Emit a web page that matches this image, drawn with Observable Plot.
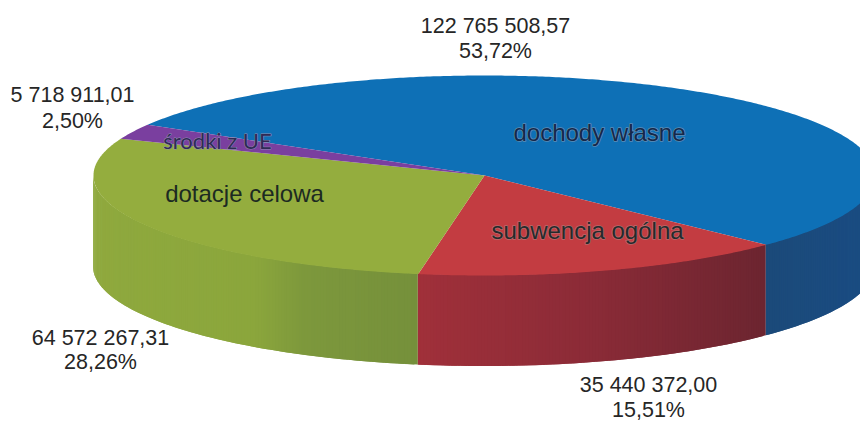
<!DOCTYPE html>
<html>
<head>
<meta charset="utf-8">
<style>html,body{margin:0;padding:0;background:#fff}svg{display:block}</style>
<script src="https://cdn.jsdelivr.net/npm/d3@7"></script>
<script src="https://cdn.jsdelivr.net/npm/@observablehq/plot@0.6"></script>
</head>
<body>
<div id="chart"></div>
<script>
// Data (clockwise order on screen, starting at the blue slice)
const categories = ["dochody własne", "subwencja ogólna", "dotacje celowa", "środki z UE"];
const amounts = [122765508.57, 35440372.00, 64572267.31, 5718911.01];
const amountLabels = ["122 765 508,57", "35 440 372,00", "64 572 267,31", "5 718 911,01"];
const percentLabels = ["53,72%", "15,51%", "28,26%", "2,50%"];

// Styling and layout
const topColors = ["#0e70b6", "#c33c41", "#94ad3e", "#7a3f9f"];
const wallStops = [
  {px: [765, 875], colors: ["#1b4a79", "#1a4c83"]},
  {px: [418, 590, 765], colors: ["#a0303a", "#8b2b37", "#6c2530"]},
  {px: [93, 255, 305, 418], colors: ["#8fa93e", "#8ba63c", "#7d983c", "#75903b"]},
  null
];
const labelInk = ["#14284a", "#252a2c", "#1c2a22", "#2f2a55"];
const labelHalo = ["#5f8db5", "#b86a6c", "#94ad3e", "#8f8fb0"];
const cx = 484, cy = 175, rx = 391, ry = 100, depth = 91, startDeg = 149.5;
const outsidePos = [[495, 32, 57], [648, 391, 416], [100, 344, 368], [72, 101, 127]];
const insidePos = [[599, 133], [587, 231], [244, 194], [217, 141]];

const total = d3.sum(amounts);
const px = a => cx + rx * Math.cos(a * Math.PI / 180);
const py = a => cy - ry * Math.sin(a * Math.PI / 180);

// Slices run clockwise on screen, i.e. decreasing angle
let cursor = startDeg;
const slices = categories.map((name, i) => {
  const a0 = cursor, a1 = cursor - amounts[i] / total * 360;
  cursor = a1;
  return {name, i, a0, a1};
});

const tops = [];
const strips = [];
for (const s of slices) {
  tops.push({s: s.i, x: cx, y: cy});
  for (let a = s.a0; a > s.a1; a -= 0.5) tops.push({s: s.i, x: px(a), y: py(a)});
  tops.push({s: s.i, x: px(s.a1), y: py(s.a1)});
  const st = wallStops[s.i];
  if (!st) continue;
  const shade = d3.scaleLinear().domain(st.px).range(st.colors).clamp(true);
  for (let a = s.a0; a > s.a1; a -= 0.5) {
    const b = Math.max(a - 0.5, s.a1);
    const front = Math.sin(((a + b) / 2) * Math.PI / 180) < 0;
    if (!front) continue;
    const id = `${s.i}-${a}`;
    const fill = shade((px(a) + px(b)) / 2);
    const over = Math.max(b - 0.5, s.a1);
    strips.push({id, fill, x: px(a), y1: py(a), y2: py(a) + depth});
    strips.push({id, fill, x: px(over), y1: py(over), y2: py(over) + depth});
  }
}

const outsideText = categories.flatMap((_, i) => [
  {t: amountLabels[i], x: outsidePos[i][0], y: outsidePos[i][1]},
  {t: percentLabels[i], x: outsidePos[i][0], y: outsidePos[i][2]}
]);
const insideText = categories.map((t, i) => ({t, x: insidePos[i][0], y: insidePos[i][1], i}));

const chart = Plot.plot({
  width: 860, height: 421, margin: 0,
  style: {background: "#fff"},
  x: {domain: [0, 860], range: [0, 860], axis: null},
  y: {domain: [0, 421], range: [0, 421], axis: null},
  marks: [
    Plot.area(strips, {x1: "x", y1: "y1", y2: "y2", z: "id", fill: "fill"}),
    Plot.line(tops, {x: "x", y: "y", z: "s", fill: d => topColors[d.s], stroke: null, curve: "linear-closed"}),
    Plot.text(outsideText, {x: "x", y: "y", text: "t", fontFamily: "Liberation Sans", fontSize: 21.5, fill: "#262626", lineAnchor: "bottom"}),
    Plot.text(insideText.filter(d => d.i < 3), {x: "x", y: "y", text: "t", fontFamily: "Liberation Sans", fontSize: 24, fill: d => labelInk[d.i], stroke: d => labelHalo[d.i], strokeWidth: 1.5}),
    Plot.text(insideText.filter(d => d.i === 3), {x: "x", y: "y", text: "t", fontFamily: "Lato", fontSize: 22, fill: d => labelInk[d.i], stroke: d => labelHalo[d.i], strokeWidth: 1})
  ]
});
document.getElementById("chart").append(chart);
</script>
</body>
</html>
